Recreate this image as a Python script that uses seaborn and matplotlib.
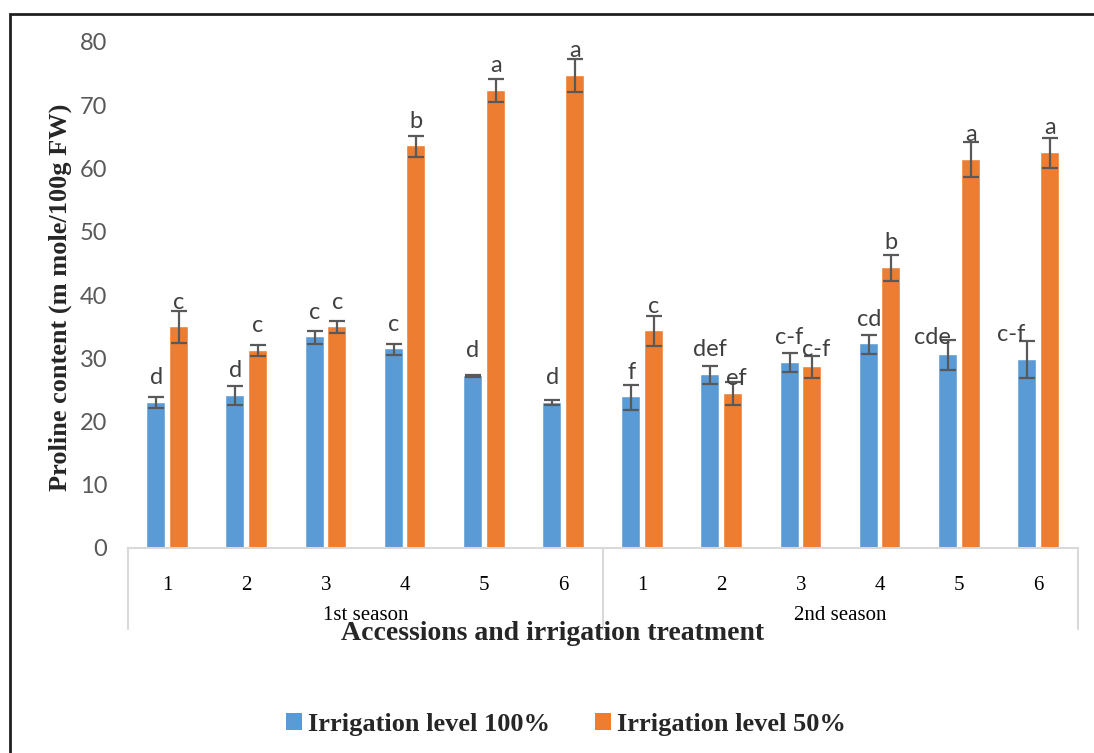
import numpy as np
import pandas as pd
import seaborn as sns
import matplotlib
matplotlib.use("Agg")
import matplotlib.pyplot as plt
from matplotlib.patches import Rectangle, Patch
from matplotlib.lines import Line2D
import matplotlib.transforms as mtransforms

# ---- data -------------------------------------------------------------
seasons = ["1st season", "2nd season"]
accessions = ["1", "2", "3", "4", "5", "6"]
treatments = ["Irrigation level 100%", "Irrigation level 50%"]

full_irrigation = [23.0, 24.1, 33.3, 31.4, 27.2, 23.0,
                   23.8, 27.4, 29.3, 32.2, 30.5, 29.8]
full_irrigation_se = [0.8, 1.45, 1.05, 0.92, 0.2, 0.42,
                      2.0, 1.45, 1.48, 1.5, 2.37, 2.95]
half_irrigation = [34.9, 31.2, 34.9, 63.5, 72.3, 74.7,
                   34.3, 24.4, 28.6, 44.3, 61.4, 62.5]
half_irrigation_se = [2.5, 0.87, 0.92, 1.66, 1.84, 2.6,
                      2.37, 1.77, 1.77, 2.1, 2.74, 2.35]

full_letters = ["d", "d", "c", "c", "d", "d",
                "f", "def", "c-f", "cd", "cde", "c-f"]
half_letters = ["c", "c", "c", "b", "a", "a",
                "c", "ef", "c-f", "b", "a", "a"]

yticks = [0, 10, 20, 30, 40, 50, 60, 70, 80]

# ---- tidy frame -------------------------------------------------------
groups = [f"{s}|{a}" for s in seasons for a in accessions]
df = pd.DataFrame({
    "group": groups * 2,
    "treatment": [treatments[0]] * 12 + [treatments[1]] * 12,
    "proline": full_irrigation + half_irrigation,
})

blue = "#5B9BD5"
orange = "#ED7D31"
serif = "Liberation Serif"
sans = "Lato"

sns.set_theme(style="white")
plt.rcParams["font.family"] = [sans, "DejaVu Sans"]

fig = plt.figure(figsize=(10.94, 7.53), dpi=100)
ax = fig.add_axes([128 / 1094, 205 / 753, 950 / 1094, (548 - 42) / 753])

sns.barplot(data=df, x="group", y="proline", hue="treatment", order=groups,
            hue_order=treatments, palette=[blue, orange], saturation=1,
            width=0.572, gap=0.2, errorbar=None, legend=False, ax=ax,
            edgecolor="white", linewidth=0.3)

ax.set_ylim(0, 80)
ax.set_xlim(-0.5, len(groups) - 0.5)
ax.set_yticks(yticks)
ax.set_yticklabels([str(t) for t in yticks], fontsize=17, color="#595959",
                   family=sans)
ax.tick_params(axis="y", length=0, pad=15)
ax.tick_params(axis="x", length=0)
ax.set_xticks(range(len(groups)))
ax.set_xticklabels(accessions * 2, fontsize=15, family=serif, color="black")
ax.tick_params(axis="x", pad=20)

for side in ["top", "right", "left"]:
    ax.spines[side].set_visible(False)
ax.spines["bottom"].set_color("#D9D9D9")
ax.spines["bottom"].set_linewidth(1.5)

# error bars and significance letters
label_shift = {  # (dx px, dy px) tweaks for crowded labels
    ("half", 7): (3, -10),
    ("half", 8): (4, -7),
    ("full", 10): (-15, -7),
    ("full", 11): (-16, 0),
}
for key, container, vals, errs, letters in [
        ("full", ax.containers[0], full_irrigation, full_irrigation_se, full_letters),
        ("half", ax.containers[1], half_irrigation, half_irrigation_se, half_letters)]:
    xs = [b.get_x() + b.get_width() / 2 for b in container]
    ax.errorbar(xs, vals, yerr=errs, fmt="none", ecolor="#595959",
                elinewidth=1.6, capsize=6, capthick=1.6, zorder=3)
    for i, (x, v, lab) in enumerate(zip(xs, vals, letters)):
        dx, dy = label_shift.get((key, i), (0, 0))
        ax.annotate(lab, (x, v), xytext=(dx * 0.72, (25 + dy) * 0.72),
                    textcoords="offset points", ha="center", va="center",
                    fontsize=17, color="#404040", family=sans)

# multi-level category axis: separators and season names
trans = mtransforms.blended_transform_factory(ax.transData, ax.transAxes)
depth = -81 / 506
for xb in [-0.5, 5.5, len(groups) - 0.5]:
    ax.add_line(Line2D([xb, xb], [0, depth], transform=trans, color="#D9D9D9",
                       lw=1.5, clip_on=False))
for k, s in enumerate(seasons):
    ax.text(k * 6 + 2.5, -68 / 506, s, transform=trans, ha="center",
            va="center", fontsize=15, family=serif, color="black")

ax.set_xlabel("")
ax.set_ylabel("")
fig.text(553 / 1094, 1 - 634 / 753, "Accessions and irrigation treatment",
         ha="center", va="center", fontsize=20, fontweight="bold",
         family=serif)
fig.text(60 / 1094, 1 - 297 / 753, "Proline content (m mole/100g FW)",
         ha="center", va="center", rotation=90, fontsize=19,
         fontweight="bold", family=serif)

handles = [Patch(facecolor=blue, edgecolor="none"),
           Patch(facecolor=orange, edgecolor="none")]
fig.legend(handles, treatments, loc="center", bbox_to_anchor=(566 / 1094, 1 - 724 / 753),
           ncol=2, frameon=False, handlelength=0.6, handleheight=0.6,
           handletextpad=0.25, columnspacing=1.7,
           prop={"family": serif, "weight": "bold", "size": 19})

# chart frame
fig.add_artist(Rectangle((10 / 1094, -0.05), 1.2, 1.05 - 14 / 753,
                         transform=fig.transFigure, fill=False,
                         edgecolor="#202020", lw=2))

fig.savefig("out.png", dpi=100)
